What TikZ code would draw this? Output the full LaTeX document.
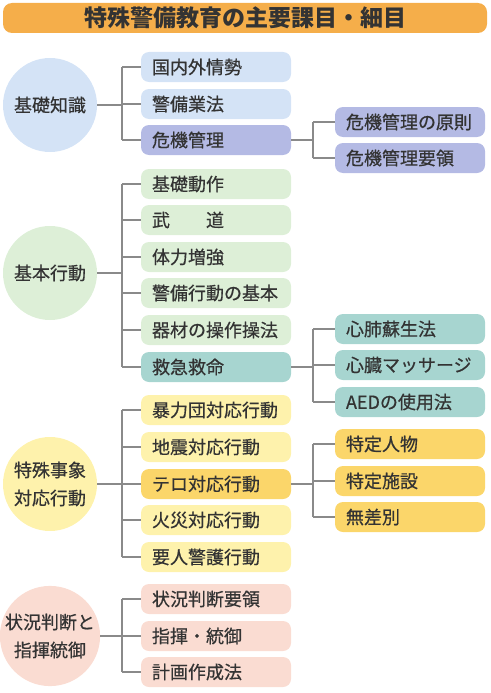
\documentclass[tikz,border=0pt]{standalone}
\usepackage{fontspec}
\setmainfont[FakeBold=0.6]{Noto Sans CJK JP}
\newfontfamily\titlefont{Noto Sans CJK JP}
\definecolor{ink}{HTML}{333333}
\definecolor{wire}{HTML}{8A8A8A}
\definecolor{titlebg}{HTML}{F5AE4A}
\definecolor{blueA}{HTML}{D4E3F6}
\definecolor{blueB}{HTML}{B4BAE4}
\definecolor{greenA}{HTML}{DDEFD7}
\definecolor{greenB}{HTML}{A7D5D0}
\definecolor{yellowA}{HTML}{FEF2AC}
\definecolor{yellowB}{HTML}{FBD66A}
\definecolor{pinkA}{HTML}{FADCD2}

\begin{document}
\begin{tikzpicture}[x=1pt,y=-1pt,
  topic/.style={circle,minimum size=94pt,inner sep=0pt,align=center,font=\fontsize{18}{28}\selectfont,text=ink},
  item/.style={rounded corners=8pt,minimum height=30pt,text width=128pt,inner xsep=11pt,inner ysep=0pt,align=left,font=\fontsize{18}{22}\selectfont,text=ink},
  link/.style={draw=wire,line width=1.1pt}
]
  \useasboundingbox (0,0) rectangle (490,693);
  \node[rounded corners=9pt,fill=titlebg,minimum width=484pt,minimum height=30pt,text=ink,font=\titlefont\bfseries\fontsize{23}{26}\selectfont] (title) at (245,18) {特殊警備教育の主要課目・細目};

  \node[topic,fill=blueA] (kiso) at (50,105) {基礎知識};
  \node[item,fill=blueA] (kiso1) at (216,67) {国内外情勢};
  \node[item,fill=blueA] (kiso2) at (216,104) {警備業法};
  \node[item,fill=blueB] (kiso3) at (216,140) {危機管理};
  \node[item,fill=blueB] (kiki1) at (410,122) {危機管理の原則};
  \node[item,fill=blueB] (kiki2) at (410,158) {危機管理要領};

  \node[topic,fill=greenA] (kihon) at (50,273) {基本行動};
  \node[item,fill=greenA] (kihon1) at (216,184) {基礎動作};
  \node[item,fill=greenA] (kihon2) at (216,220) {武　　道};
  \node[item,fill=greenA] (kihon3) at (216,257) {体力増強};
  \node[item,fill=greenA] (kihon4) at (216,293) {警備行動の基本};
  \node[item,fill=greenA] (kihon5) at (216,330) {器材の操作操法};
  \node[item,fill=greenB] (kihon6) at (216,367) {救急救命};
  \node[item,fill=greenB] (kyu1) at (410,329) {心肺蘇生法};
  \node[item,fill=greenB] (kyu2) at (410,365) {心臓マッサージ};
  \node[item,fill=greenB] (kyu3) at (410,402) {AEDの使用法};

  \node[topic,fill=yellowA] (toku) at (50,484) {特殊事象\\対応行動};
  \node[item,fill=yellowA] (toku1) at (216,410) {暴力団対応行動};
  \node[item,fill=yellowA] (toku2) at (216,447) {地震対応行動};
  \node[item,fill=yellowB] (toku3) at (216,484) {テロ対応行動};
  \node[item,fill=yellowA] (toku4) at (216,520) {火災対応行動};
  \node[item,fill=yellowA] (toku5) at (216,557) {要人警護行動};
  \node[item,fill=yellowB] (tero1) at (410,444) {特定人物};
  \node[item,fill=yellowB] (tero2) at (410,481) {特定施設};
  \node[item,fill=yellowB] (tero3) at (410,517) {無差別};

  \node[topic,fill=pinkA] (jokyo) at (50,636) {状況判断と\\指揮統御};
  \node[item,fill=pinkA] (jokyo1) at (216,599) {状況判断要領};
  \node[item,fill=pinkA] (jokyo2) at (216,636) {指揮・統御};
  \node[item,fill=pinkA] (jokyo3) at (216,672) {計画作成法};

  \coordinate (kisoJ) at (122,105);
  \coordinate (kihonJ) at (122,273);
  \coordinate (tokuJ) at (122,484);
  \coordinate (jokyoJ) at (122,636);
  \coordinate (kikiJ) at (313,140);
  \coordinate (kyuJ) at (313,367);
  \coordinate (teroJ) at (313,484);

  \draw[link] (kiso) -- (kisoJ);
  \draw[link] (kisoJ |- kiso1) -- (kisoJ |- kiso3);
  \foreach \n in {1,2,3} \draw[link] (kisoJ |- kiso\n) -- (kiso\n.west);
  \draw[link] (kiso3) -- (kikiJ);
  \draw[link] (kikiJ |- kiki1) -- (kikiJ |- kiki2);
  \foreach \n in {1,2} \draw[link] (kikiJ |- kiki\n) -- (kiki\n.west);

  \draw[link] (kihon) -- (kihonJ);
  \draw[link] (kihonJ |- kihon1) -- (kihonJ |- kihon6);
  \foreach \n in {1,...,6} \draw[link] (kihonJ |- kihon\n) -- (kihon\n.west);
  \draw[link] (kihon6) -- (kyuJ);
  \draw[link] (kyuJ |- kyu1) -- (kyuJ |- kyu3);
  \foreach \n in {1,2,3} \draw[link] (kyuJ |- kyu\n) -- (kyu\n.west);

  \draw[link] (toku) -- (tokuJ);
  \draw[link] (tokuJ |- toku1) -- (tokuJ |- toku5);
  \foreach \n in {1,...,5} \draw[link] (tokuJ |- toku\n) -- (toku\n.west);
  \draw[link] (toku3) -- (teroJ);
  \draw[link] (teroJ |- tero1) -- (teroJ |- tero3);
  \foreach \n in {1,2,3} \draw[link] (teroJ |- tero\n) -- (tero\n.west);

  \draw[link] (jokyo) -- (jokyoJ);
  \draw[link] (jokyoJ |- jokyo1) -- (jokyoJ |- jokyo3);
  \foreach \n in {1,2,3} \draw[link] (jokyoJ |- jokyo\n) -- (jokyo\n.west);
\end{tikzpicture}
\end{document}
